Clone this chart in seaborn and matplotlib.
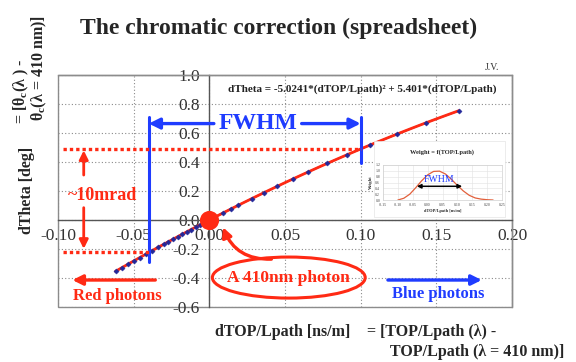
import matplotlib
matplotlib.use("Agg")
import matplotlib.pyplot as plt
from matplotlib.patches import Ellipse, Rectangle, FancyArrowPatch
import numpy as np
import pandas as pd
import seaborn as sns

# ---- data -------------------------------------------------------------
dtop_lpath = [-0.062, -0.058, -0.054, -0.050, -0.046, -0.042, -0.038, -0.034,
              -0.030, -0.027, -0.024, -0.021, -0.018, -0.015, -0.012, -0.009,
              -0.006, -0.003, 0.000, 0.004, 0.009, 0.014, 0.019, 0.028, 0.036,
              0.045, 0.055, 0.065, 0.078, 0.091, 0.106, 0.124, 0.143, 0.165]
dtheta = [-0.354, -0.330, -0.306, -0.283, -0.259, -0.236, -0.212, -0.189,
          -0.167, -0.149, -0.133, -0.116, -0.099, -0.082, -0.066, -0.049,
          -0.033, -0.016, 0.000, 0.022, 0.048, 0.075, 0.101, 0.147, 0.188,
          0.233, 0.282, 0.330, 0.391, 0.450, 0.516, 0.592, 0.670, 0.754]

x_ticks = [-0.10, -0.05, 0.00, 0.05, 0.10, 0.15, 0.20]
y_ticks = [-0.6, -0.4, -0.2, 0.0, 0.2, 0.4, 0.6, 0.8, 1.0]

# FWHM bounds and the matching angle spread
fwhm_lo, fwhm_hi = -0.040, 0.100
theta_lo, theta_hi = -0.224, 0.490

# photon-weight curve for the inset
w_x = [-0.10, -0.08, -0.06, -0.04, -0.02, 0.00, 0.02, 0.04, 0.06, 0.08,
       0.10, 0.12, 0.14, 0.16, 0.18, 0.20, 0.22]
w_y = [0.00, 0.06, 0.20, 0.42, 0.66, 0.86, 0.98, 0.99, 0.89, 0.71,
       0.50, 0.31, 0.16, 0.07, 0.03, 0.01, 0.00]
w_x_ticks = [-0.15, -0.10, -0.05, 0.00, 0.05, 0.10, 0.15, 0.20, 0.25]
w_y_ticks = [0.0, 0.2, 0.4, 0.6, 0.8, 1.0, 1.2]

# ---- style ------------------------------------------------------------
sns.set_style("white")
plt.rcParams["font.family"] = ["Liberation Serif", "DejaVu Serif"]
plt.rcParams["axes.unicode_minus"] = False
plt.rcParams["mathtext.default"] = "regular"

RED = "#ff2a14"
BLUE = "#1f3cff"
DBLUE = "#23289a"
W, H = 576, 362

df = pd.DataFrame({"x": dtop_lpath, "y": dtheta})

fig = plt.figure(figsize=(W / 100, H / 100), dpi=100)
ax = fig.add_axes([58 / W, 1 - 307 / H, (512 - 58) / W, (307 - 75) / H])

# measured points and the quadratic fit
sns.lineplot(data=df, x="x", y="y", ax=ax, color=DBLUE, lw=1.2, sort=False,
             estimator=None, zorder=3)
sns.regplot(data=df, x="x", y="y", ax=ax, order=2, ci=None, scatter=False,
            truncate=True, color=RED, line_kws=dict(lw=2.0, zorder=4))
sns.scatterplot(data=df, x="x", y="y", ax=ax, color=DBLUE, marker="D", s=7,
                edgecolor=DBLUE, linewidth=0.3, zorder=5)

ax.set_xlim(-0.10, 0.20)
ax.set_ylim(-0.6, 1.0)
ax.set_xticks(x_ticks)
ax.set_xticklabels([f"{v:.2f}" for v in x_ticks])
ax.set_yticks(y_ticks)
ax.set_yticklabels([f"{v:.1f}" for v in y_ticks])
ax.set_xlabel("")
ax.set_ylabel("")
ax.tick_params(axis="both", length=0, labelsize=12.5, labelcolor="#333333")
ax.tick_params(axis="y", pad=7)
ax.tick_params(axis="x", pad=6)
ax.grid(True, ls=(0, (1, 2)), color="#8a8a8a", lw=0.8)

ax.spines["left"].set_position(("data", 0))
ax.spines["bottom"].set_position(("data", 0))
for s in ("left", "bottom"):
    ax.spines[s].set_color("#555555")
    ax.spines[s].set_linewidth(1.0)
for s in ("top", "right"):
    ax.spines[s].set_color("#8c8c8c")
    ax.spines[s].set_linewidth(1.0)
ax.add_patch(Rectangle((0, 0), 1, 1, transform=ax.transAxes, fill=False,
                       ec="#8c8c8c", lw=1.0, clip_on=False, zorder=0))

# fit equation
ax.text(0.101, 0.90, "dTheta = -5.0241*(dTOP/Lpath)² + 5.401*(dTOP/Lpath)",
        ha="center", va="center", fontsize=8, fontweight="bold", color="#222222")

# FWHM markers
ax.plot([fwhm_lo, fwhm_lo], [-0.29, 0.71], color=BLUE, lw=2.2, zorder=6)
ax.plot([fwhm_hi, fwhm_hi], [0.39, 0.71], color=BLUE, lw=2.2, zorder=6)
arrow_kw = dict(arrowstyle="-|>", color=BLUE, lw=2.4, mutation_scale=16,
                shrinkA=0, shrinkB=0)
ax.annotate("", xy=(fwhm_lo, 0.665), xytext=(0.003, 0.665), arrowprops=arrow_kw)
ax.annotate("", xy=(fwhm_hi, 0.665), xytext=(0.061, 0.665), arrowprops=arrow_kw)
ax.text(0.032, 0.665, "FWHM", ha="center", va="center", fontsize=17,
        fontweight="bold", color=BLUE)

# angular spread
dot_kw = dict(color=RED, lw=2.4, ls=(0, (1, 0.9)), zorder=6)
ax.plot([-0.097, fwhm_hi], [theta_hi, theta_hi], **dot_kw)
ax.plot([-0.097, fwhm_lo], [theta_lo, theta_lo], **dot_kw)
red_arrow = dict(arrowstyle="-|>", color=RED, lw=2.0, mutation_scale=13,
                 shrinkA=0, shrinkB=0)
ax.annotate("", xy=(-0.083, theta_hi - 0.01), xytext=(-0.083, 0.31),
            arrowprops=red_arrow)
ax.annotate("", xy=(-0.083, theta_lo + 0.025), xytext=(-0.083, 0.085),
            arrowprops=red_arrow)
ax.text(-0.0705, 0.17, "~10mrad", ha="center", va="center", fontsize=13,
        fontweight="bold", color=RED)

# reference photon
ax.scatter([0.0], [0.0], s=190, color=RED, zorder=7, linewidths=0)
ax.add_patch(Ellipse((0.0525, -0.397), 0.101, 0.283, fill=False, ec=RED,
                     lw=2.2, zorder=6))
ax.text(0.052, -0.40, "A 410nm photon", ha="center", va="center",
        fontsize=12.5, fontweight="bold", color=RED, zorder=7)
ax.add_patch(FancyArrowPatch((0.041, -0.27), (0.009, -0.05),
                             connectionstyle="arc3,rad=-0.35",
                             arrowstyle="-|>", mutation_scale=14, lw=2.4,
                             color=RED, shrinkA=0, shrinkB=0, zorder=7))

# colour direction arrows
ax.annotate("", xy=(-0.0905, -0.414), xytext=(-0.0357, -0.414),
            arrowprops=dict(red_arrow, lw=2.4, mutation_scale=15))
ax.text(-0.061, -0.524, "Red photons", ha="center", va="center", fontsize=12,
        fontweight="bold", color=RED)
ax.annotate("", xy=(0.180, -0.414), xytext=(0.118, -0.414),
            arrowprops=dict(arrow_kw, lw=2.4, mutation_scale=15))
ax.text(0.151, -0.512, "Blue photons", ha="center", va="center", fontsize=12,
        fontweight="bold", color=BLUE)

# ---- inset: photon weight vs dTOP/Lpath --------------------------------
fig.add_artist(Rectangle((374 / W, 1 - 217 / H), 131 / W, 76 / H,
                         transform=fig.transFigure, fc="white",
                         ec="#e4e4e4", lw=0.5, zorder=2))
ins = fig.add_axes([383 / W, 1 - 200 / H, 119 / W, 35 / H], zorder=3)
wdf = pd.DataFrame({"x": w_x, "y": w_y})
sns.lineplot(data=wdf, x="x", y="y", ax=ins, color="#e2603c", lw=0.9,
             estimator=None)
ins.set_xlim(-0.15, 0.25)
ins.set_ylim(0.0, 1.2)
ins.set_xticks(w_x_ticks)
ins.set_xticklabels([f"{v:.2f}" for v in w_x_ticks])
ins.set_yticks(w_y_ticks)
ins.set_yticklabels([f"{v:.1f}" for v in w_y_ticks])
ins.tick_params(length=0, labelsize=2.8, pad=2, labelcolor="#444444")
ins.grid(True, color="#e2e2e2", lw=0.4)
for s in ins.spines.values():
    s.set_color("#d0d0d0")
    s.set_linewidth(0.5)
ins.set_xlabel("dTOP/Lpath [ns/m]", fontsize=3.2, fontweight="bold", labelpad=1.5)
ins.set_ylabel("Weight", fontsize=3.2, fontweight="bold", labelpad=2)
ins.set_title("Weight = f(TOP/Lpath)", fontsize=4.6, fontweight="bold", pad=8)
ins.annotate("", xy=(-0.036, 0.47), xytext=(0.116, 0.47),
             arrowprops=dict(arrowstyle="<|-|>", color="black", lw=1.1,
                             mutation_scale=6, shrinkA=0, shrinkB=0))
ins.text(0.038, 0.72, "FWHM", ha="center", va="center", fontsize=7,
         color=BLUE)

# ---- titles and axis captions -----------------------------------------
fig.text(279 / W, 1 - 34 / H, "The chromatic correction (spreadsheet)",
         ha="center", va="baseline", fontsize=17, fontweight="bold")
fig.text(492 / W, 1 - 68 / H, "J.V.", ha="center", va="center", fontsize=7,
         color="#333333")

fig.text(27 / W, 1 - 190 / H, "dTheta [deg]", rotation=90, ha="center",
         va="center", fontsize=11.5, fontweight="bold")
fig.text(21 / W, 1 - 124 / H, r"= [θ$_c$(λ ) -", rotation=90, ha="center",
         va="bottom", fontsize=11.5, fontweight="bold")
fig.text(39 / W, 1 - 121 / H, r"θ$_c$(λ = 410 nm)]", rotation=90, ha="center",
         va="bottom", fontsize=11.5, fontweight="bold")

fig.text(283 / W, 1 - 332 / H, "dTOP/Lpath [ns/m]", ha="center", va="center",
         fontsize=11.5, fontweight="bold")
fig.text(367 / W, 1 - 332 / H, "= [TOP/Lpath (λ) -", ha="left", va="center",
         fontsize=11.5, fontweight="bold")
fig.text(390 / W, 1 - 352 / H, "TOP/Lpath (λ = 410 nm)]", ha="left",
         va="center", fontsize=11.5, fontweight="bold")

fig.savefig("out.png", dpi=100)
